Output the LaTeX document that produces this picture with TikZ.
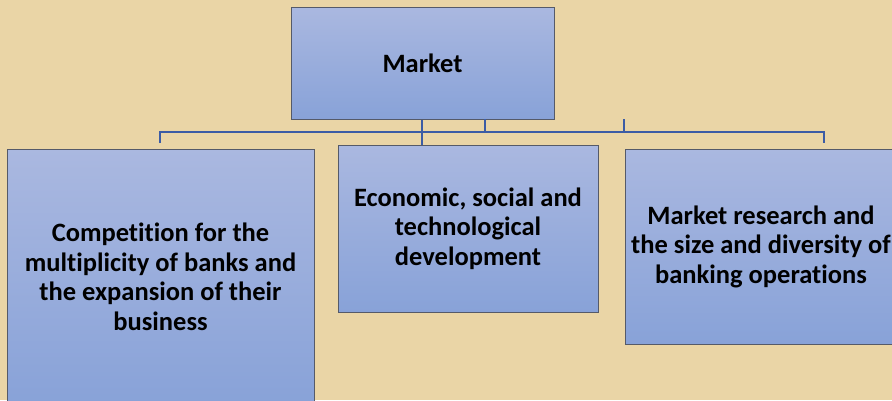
\documentclass[tikz,border=0pt]{standalone}
\usepackage{fontspec}
\setmainfont{Carlito}[Ligatures={NoCommon}]
\definecolor{parch}{RGB}{234,213,166}
\definecolor{boxtop}{RGB}{170,184,224}
\definecolor{boxbot}{RGB}{136,162,216}
\definecolor{boxline}{RGB}{85,90,105}
\definecolor{conn}{RGB}{60,92,165}
\begin{document}
\begin{tikzpicture}[x=1pt,y=-1pt,
  box/.style={draw=boxline, line width=1pt, top color=boxtop, bottom color=boxbot,
    align=center, inner sep=0pt,
    font=\bfseries\fontsize{26.5}{29.5}\selectfont, text=black},
  conline/.style={draw=conn, line width=2pt}]
\useasboundingbox (0,0) rectangle (892,400);
\fill[parch] (0,0) rectangle (892,400);
\begin{scope}
\clip (0,0) rectangle (892,400);
\node[box, minimum width=263pt, minimum height=112pt] (market) at (422.5,63) {Market};
\node[box, minimum width=307pt, minimum height=256pt] (left) at (160.5,277) {Competition for the\\multiplicity of banks and\\the expansion of their\\business};
\node[box, minimum width=260pt, minimum height=167pt] (mid) at (468,228.5) {Economic, social and\\technological\\development};
\node[box, minimum width=272pt, minimum height=195pt] (right) at (761,246.5) {Market research and\\the size and diversity of\\banking operations};
\end{scope}
\coordinate (hl) at (160,132);
\coordinate (hr) at (824,132);
\coordinate (tl) at (160,143);
\coordinate (tr) at (824,143);
\coordinate (j1) at (422,132);
\coordinate (j2) at (485,132);
\coordinate (j3) at (624,132);
\coordinate (m2) at (485,119);
\coordinate (m3) at (624,119);
\draw[conline] (tl) -- (hl) -- (hr) -- (tr);
\draw[conline] (market.south -| j1) -- (mid.north -| j1);
\draw[conline] (m2) -- (j2);
\draw[conline] (m3) -- (j3);
\end{tikzpicture}
\end{document}
